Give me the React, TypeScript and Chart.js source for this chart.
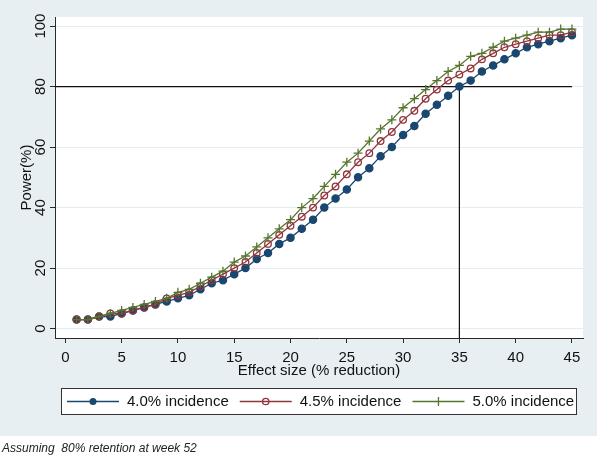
import React, { useEffect, useRef } from 'react';
import { Chart, registerables } from 'chart.js';

Chart.register(...registerables);

// ---- data ----
const effectSize = [1, 2, 3, 4, 5, 6, 7, 8, 9, 10, 11, 12, 13, 14, 15, 16, 17, 18, 19, 20, 21, 22, 23, 24, 25, 26, 27, 28, 29, 30, 31, 32, 33, 34, 35, 36, 37, 38, 39, 40, 41, 42, 43, 44, 45];
const power40 = [3, 3, 4, 4, 5, 6, 7, 8, 9, 10, 11, 13, 15, 16, 18, 20, 23, 25, 28, 30, 33, 36, 40, 43, 46, 50, 53, 57, 60, 64, 67, 71, 74, 77, 80, 82, 85, 87, 89, 91, 93, 94, 95, 96, 97];
const power45 = [3, 3, 4, 5, 5, 6, 7, 8, 10, 11, 12, 14, 16, 18, 20, 22, 25, 28, 31, 34, 37, 40, 44, 47, 51, 55, 58, 62, 65, 69, 72, 76, 79, 82, 84, 86, 89, 91, 93, 94, 95, 96, 97, 97, 98];
const power50 = [3, 3, 4, 5, 6, 7, 8, 9, 10, 12, 13, 15, 17, 19, 22, 24, 27, 30, 33, 36, 40, 43, 47, 51, 55, 58, 62, 66, 69, 73, 76, 79, 82, 85, 87, 90, 91, 93, 95, 96, 97, 98, 98, 99, 99];
const seriesLabels = ['4.0% incidence', '4.5% incidence', '5.0% incidence'];
const xTicks = [0, 5, 10, 15, 20, 25, 30, 35, 40, 45];
const yTicks = [0, 20, 40, 60, 80, 100];
const xRange = [-0.92, 45.98];
const yRange = [-3.1, 103];
const targetPower = 80;
const targetEffect = 35;
const refLineEnd = 45;
const xTitle = 'Effect size (% reduction)';
const yTitle = 'Power(%)';
const caption = 'Assuming  80% retention at week 52';

// ---- styles ----
const FONT = "'Liberation Sans', Arial, sans-serif";
const COLORS = ['#1a476f', '#90353b', '#55752f'];
const PANEL = '#e7eff2';
const TEXT = '#111';
const AXIS = '#2a2a2a';
const GRID = '#e4ecef';

const decorPlugin = {
  id: 'decor',
  beforeDraw(chart: any) {
    const { ctx, chartArea: a, width, height } = chart;
    ctx.save();
    ctx.fillStyle = '#ffffff';
    ctx.fillRect(0, 0, width, height);
    ctx.fillStyle = PANEL;
    ctx.fillRect(0, 0, width - 3, a.bottom + 98);
    ctx.fillStyle = '#ffffff';
    ctx.fillRect(a.left, a.top, a.right - a.left, a.bottom - a.top);
    ctx.restore();
  },
  afterDraw(chart: any) {
    const { ctx, chartArea: a } = chart;
    ctx.save();
    // legend box
    const boxL = a.left + 6;
    const boxR = a.right - 6;
    const boxT = a.bottom + 50;
    const boxB = a.bottom + 77;
    ctx.fillStyle = '#ffffff';
    ctx.fillRect(boxL, boxT, boxR - boxL, boxB - boxT);
    ctx.strokeStyle = '#333';
    ctx.lineWidth = 1;
    ctx.strokeRect(boxL + 0.5, boxT + 0.5, boxR - boxL - 1, boxB - boxT - 1);
    ctx.font = `15px ${FONT}`;
    ctx.textBaseline = 'middle';
    ctx.textAlign = 'left';
    const cy = (boxT + boxB) / 2;
    let x0 = boxL + 6;
    seriesLabels.forEach((label, i) => {
      const w = ctx.measureText(label).width;
      const c = COLORS[i];
      ctx.strokeStyle = c;
      ctx.lineWidth = 1.3;
      ctx.beginPath();
      ctx.moveTo(x0, cy);
      ctx.lineTo(x0 + 52, cy);
      ctx.stroke();
      const mx = x0 + 26;
      if (i === 0) {
        ctx.fillStyle = c;
        ctx.beginPath();
        ctx.arc(mx, cy, 3.5, 0, Math.PI * 2);
        ctx.fill();
      } else if (i === 1) {
        ctx.fillStyle = '#fff';
        ctx.beginPath();
        ctx.arc(mx, cy, 3.2, 0, Math.PI * 2);
        ctx.stroke();
      } else {
        ctx.beginPath();
        ctx.moveTo(mx, cy - 4.5);
        ctx.lineTo(mx, cy + 4.5);
        ctx.stroke();
      }
      ctx.fillStyle = TEXT;
      ctx.fillText(label, x0 + 60, cy + 0.5);
      x0 += 60 + w + 11;
    });
    // caption
    ctx.font = `italic 12px ${FONT}`;
    ctx.fillStyle = '#222';
    ctx.textBaseline = 'alphabetic';
    ctx.fillText(caption, 2, 452);
    ctx.restore();
  },
};

export default function App() {
  const ref = useRef<HTMLCanvasElement | null>(null);

  useEffect(() => {
    if (!ref.current) return;
    const series = [power40, power45, power50];
    const markerStyles = [
      { pointStyle: 'circle', pointRadius: 3.6, fill: true },
      { pointStyle: 'circle', pointRadius: 3.3, fill: false },
      { pointStyle: 'cross', pointRadius: 4.5, fill: false },
    ];
    const datasets: any[] = series.map((vals, i) => ({
      label: seriesLabels[i],
      data: effectSize.map((x, j) => ({ x, y: vals[j] })),
      borderColor: COLORS[i],
      borderWidth: 1.3,
      backgroundColor: COLORS[i],
      pointStyle: markerStyles[i].pointStyle,
      pointRadius: markerStyles[i].pointRadius,
      pointBackgroundColor: markerStyles[i].fill ? COLORS[i] : 'rgba(0,0,0,0)',
      pointBorderColor: COLORS[i],
      pointBorderWidth: 1.3,
      tension: 0,
      fill: false,
      order: 3 - i,
    }));
    datasets.push({
      label: 'ref-h',
      data: [
        { x: xRange[0], y: targetPower },
        { x: refLineEnd, y: targetPower },
      ],
      borderColor: '#111',
      borderWidth: 1.2,
      pointRadius: 0,
      fill: false,
      order: 10,
    });
    datasets.push({
      label: 'ref-v',
      data: [
        { x: targetEffect, y: targetPower },
        { x: targetEffect, y: yRange[0] },
      ],
      borderColor: '#111',
      borderWidth: 1.2,
      pointRadius: 0,
      fill: false,
      order: 10,
    });

    const chart = new Chart(ref.current, {
      type: 'line',
      data: { datasets },
      options: {
        animation: false,
        responsive: false,
        devicePixelRatio: 1,
        layout: { padding: { left: 0, right: 17, top: 17, bottom: 76 } },
        plugins: {
          legend: { display: false },
          tooltip: { enabled: false },
          title: { display: false },
        },
        scales: {
          x: {
            type: 'linear',
            min: xRange[0],
            max: xRange[1],
            afterBuildTicks: (s: any) => {
              s.ticks = xTicks.map((v) => ({ value: v }));
            },
            afterFit: (s: any) => {
              s.height = 42;
            },
            grid: {
              display: true,
              drawOnChartArea: false,
              drawTicks: true,
              tickLength: 5,
              tickColor: AXIS,
              tickWidth: 1,
            },
            border: { display: true, color: AXIS, width: 1 },
            ticks: {
              color: TEXT,
              font: { family: FONT, size: 15 },
              padding: 6,
              maxRotation: 0,
              minRotation: 0,
              autoSkip: false,
              callback: (v: any) => String(v),
            },
            title: {
              display: true,
              text: xTitle,
              color: TEXT,
              font: { family: FONT, size: 15 },
              padding: { top: 0, bottom: 0 },
            },
          },
          y: {
            type: 'linear',
            min: yRange[0],
            max: yRange[1],
            afterBuildTicks: (s: any) => {
              s.ticks = yTicks.map((v) => ({ value: v }));
            },
            afterFit: (s: any) => {
              s.width = 55;
            },
            grid: {
              display: true,
              drawOnChartArea: true,
              color: GRID,
              lineWidth: 1,
              drawTicks: true,
              tickLength: 5,
              tickColor: AXIS,
              tickWidth: 1,
            },
            border: { display: true, color: AXIS, width: 1 },
            ticks: {
              color: TEXT,
              font: { family: FONT, size: 15 },
              padding: -3,
              minRotation: 90,
              maxRotation: 90,
              crossAlign: 'center',
              autoSkip: false,
              callback: (v: any) => String(v),
            },
            title: {
              display: true,
              text: yTitle,
              color: TEXT,
              font: { family: FONT, size: 15 },
              padding: { top: 18, bottom: 0 },
            },
          },
        },
      } as any,
      plugins: [decorPlugin],
    });
    return () => chart.destroy();
  }, []);

  return (
    <div style={{ position: 'absolute', left: 0, top: 0, width: 600, height: 456 }}>
      <canvas ref={ref} width={600} height={456} style={{ width: 600, height: 456, display: 'block' }} />
    </div>
  );
}
